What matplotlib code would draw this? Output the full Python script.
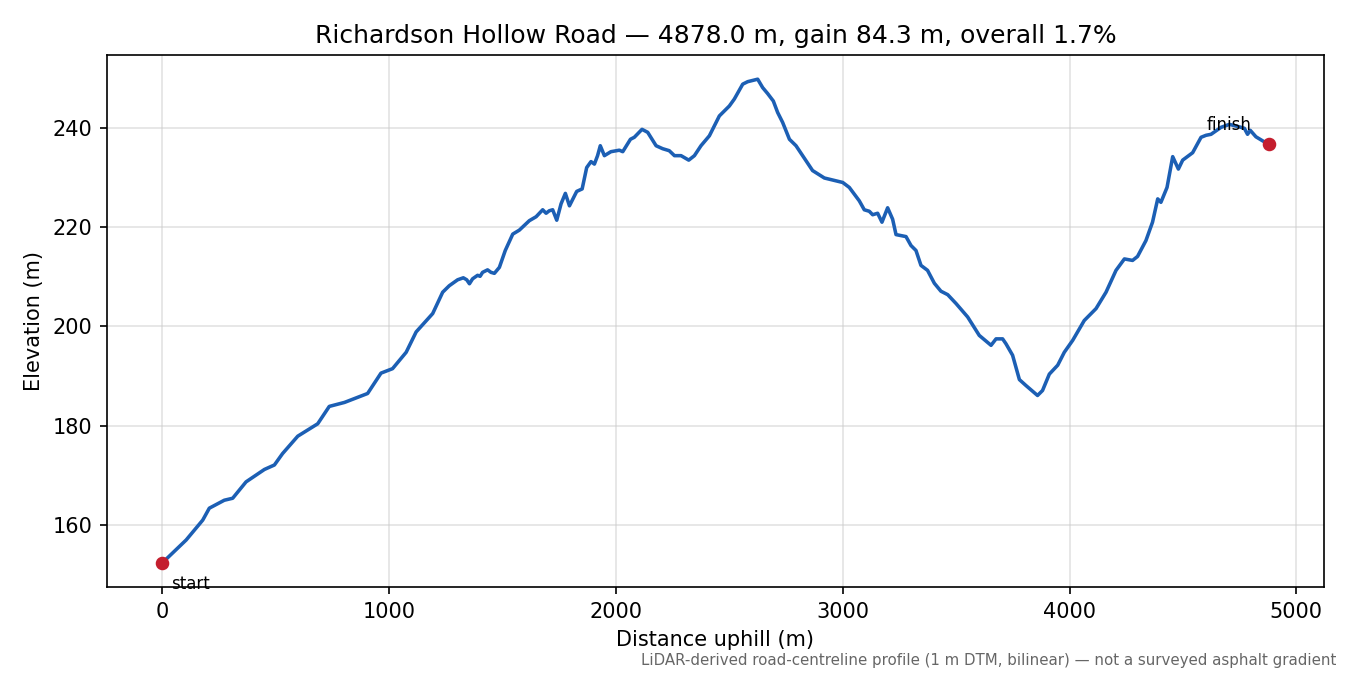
import matplotlib
matplotlib.use("Agg")
import matplotlib.pyplot as plt

# distance along road (m) and elevation (m)
distance = [
    0, 105, 178, 207, 273, 310, 369, 450, 494, 530, 597, 685, 736, 803, 905,
    964, 1015, 1075, 1119, 1192, 1236, 1265, 1302, 1327, 1342, 1354, 1368,
    1390, 1401, 1412, 1434, 1449, 1464, 1486, 1504, 1512, 1545, 1574, 1618,
    1648, 1677, 1692, 1706, 1721, 1739, 1758, 1777, 1795, 1827, 1851, 1871,
    1890, 1905, 1919, 1931, 1949, 1978, 2015, 2030, 2064, 2081, 2115, 2140,
    2177, 2206, 2235, 2258, 2287, 2321, 2346, 2375, 2412, 2456, 2500, 2522,
    2559, 2581, 2625, 2647, 2669, 2694, 2713, 2735, 2765, 2794, 2867, 2919,
    3000, 3029, 3073, 3095, 3117, 3132, 3154, 3173, 3198, 3220, 3235, 3279,
    3301, 3323, 3345, 3374, 3404, 3433, 3463, 3500, 3551, 3602, 3654, 3676,
    3705, 3720, 3749, 3779, 3808, 3859, 3881, 3911, 3948, 3977, 4014, 4065,
    4117, 4161, 4205, 4242, 4278, 4300, 4337, 4366, 4389, 4403, 4430, 4455,
    4480, 4499, 4543, 4580, 4602, 4624, 4668, 4705, 4749, 4771, 4785, 4797,
    4822, 4851, 4878,
]
elevation = [
    152.4, 157.0, 161.0, 163.4, 165.0, 165.4, 168.7, 171.2, 172.1, 174.4,
    177.9, 180.4, 183.9, 184.7, 186.5, 190.6, 191.5, 194.8, 198.9, 202.6,
    206.9, 208.2, 209.4, 209.8, 209.4, 208.6, 209.6, 210.3, 210.1, 210.9,
    211.4, 210.9, 210.7, 211.9, 214.3, 215.3, 218.6, 219.4, 221.3, 222.1,
    223.5, 222.8, 223.3, 223.5, 221.4, 224.7, 226.8, 224.3, 227.2, 227.7,
    232.0, 233.2, 232.7, 234.4, 236.4, 234.4, 235.2, 235.5, 235.2, 237.7,
    238.1, 239.7, 239.1, 236.4, 235.8, 235.4, 234.4, 234.4, 233.5, 234.4,
    236.4, 238.4, 242.4, 244.4, 245.8, 248.8, 249.3, 249.8, 248.1, 246.9,
    245.4, 243.1, 241.1, 237.7, 236.4, 231.4, 229.9, 229.0, 228.0, 225.3,
    223.5, 223.2, 222.5, 222.8, 221.0, 223.9, 221.6, 218.5, 218.1, 216.3,
    215.3, 212.3, 211.3, 208.7, 207.1, 206.4, 204.6, 201.9, 198.2, 196.2,
    197.5, 197.5, 196.5, 194.2, 189.3, 188.1, 186.1, 187.1, 190.4, 192.2,
    194.8, 197.2, 201.2, 203.6, 206.9, 211.3, 213.6, 213.3, 214.1, 217.3,
    221.0, 225.7, 225.0, 228.0, 234.2, 231.7, 233.5, 235.0, 238.1, 238.5,
    238.7, 240.1, 240.7, 240.2, 239.9, 238.7, 239.5, 238.2, 237.4, 236.7,
]

title = "Richardson Hollow Road \u2014 4878.0 m, gain 84.3 m, overall 1.7%"
note = ("LiDAR-derived road-centreline profile (1 m DTM, bilinear) "
        "\u2014 not a surveyed asphalt gradient")

fig, ax = plt.subplots(figsize=(9, 4.5), dpi=150)
fig.subplots_adjust(left=0.0793, right=0.9807, top=0.9185, bottom=0.1304)

ax.plot(distance, elevation, color="#1c5fb4", lw=1.7, zorder=2,
        solid_joinstyle="round")
ax.plot([distance[0], distance[-1]], [elevation[0], elevation[-1]], "o",
        color="#c41e2e", ms=5.5, zorder=3)

ax.annotate("start", (distance[0], elevation[0]), xytext=(4, -6),
            textcoords="offset points", fontsize=8, va="top", ha="left")
ax.annotate("finish", (distance[-1], elevation[-1]), xytext=(-8, 5),
            textcoords="offset points", fontsize=8, va="bottom", ha="right")

ax.set_title(title, fontsize=12)
ax.set_xlabel("Distance uphill (m)")
ax.set_ylabel("Elevation (m)")
ax.grid(True, color="#cccccc", alpha=0.55, lw=0.8)

fig.text(0.99, 0.01, note, ha="right", va="bottom", fontsize=7.2, color="#666666")

fig.savefig("out.png", dpi=150)
